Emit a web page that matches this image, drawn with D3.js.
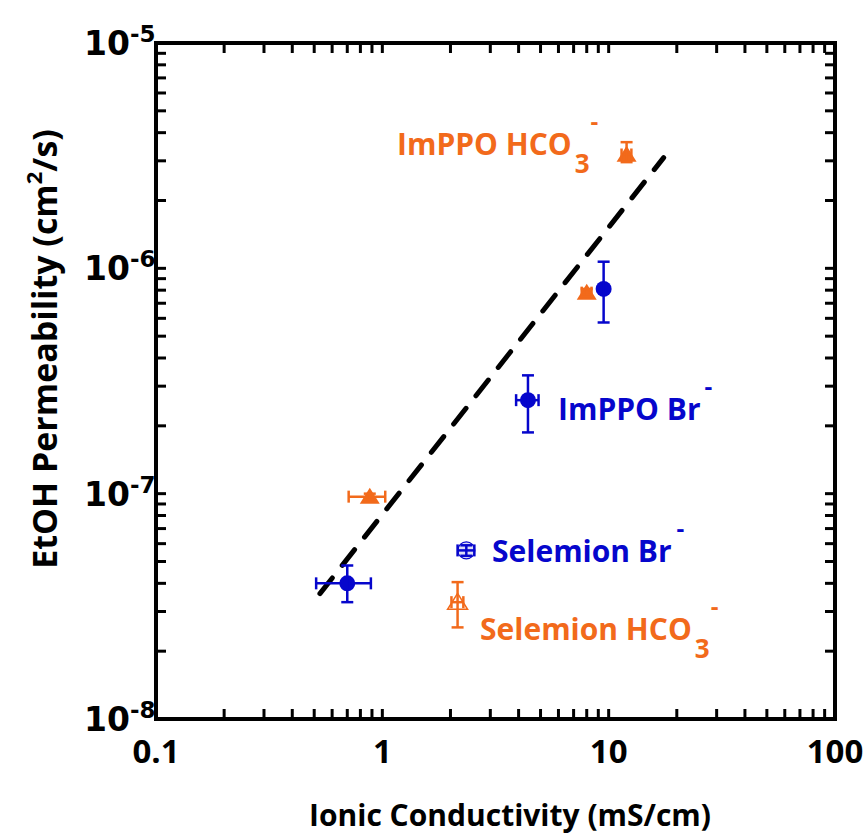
<!DOCTYPE html>
<html><head><meta charset="utf-8">
<script src="https://cdn.jsdelivr.net/npm/d3@7"></script>
<style>html,body{margin:0;padding:0;background:#fff;}</style>
</head><body>
<svg id="c" width="865" height="835"></svg>
<script>
// ---- data ----
const xDomain = [0.1, 100];
const yDomain = [1e-8, 1e-5];
const xTickLabels = ["0.1", "1", "10", "100"];
const yTickExps = ["-8", "-7", "-6", "-5"];

const impBrX   = [0.70, 4.4, 9.5];
const impBrY   = [4.0e-8, 2.6e-7, 8.1e-7];
const impBrXLo = [0.51, 3.9, 9.5];
const impBrXHi = [0.89, 4.9, 9.5];
const impBrYLo = [3.3e-8, 1.87e-7, 5.75e-7];
const impBrYHi = [4.8e-8, 3.35e-7, 1.07e-6];

const impHcoX   = [0.88, 8.0, 12.0];
const impHcoY   = [9.7e-8, 7.8e-7, 3.2e-6];
const impHcoXLo = [0.71, 7.6, 11.4];
const impHcoXHi = [1.03, 8.4, 12.6];
const impHcoYLo = [9.4e-8, 7.5e-7, 2.96e-6];
const impHcoYHi = [1.0e-7, 8.1e-7, 3.63e-6];

const selBrX   = [2.35];
const selBrY   = [5.6e-8];
const selBrXLo = [2.15];
const selBrXHi = [2.55];
const selBrYLo = [5.3e-8];
const selBrYHi = [5.9e-8];

const selHcoX   = [2.15];
const selHcoY   = [3.3e-8];
const selHcoXLo = [2.02];
const selHcoXHi = [2.28];
const selHcoYLo = [2.55e-8];
const selHcoYHi = [4.05e-8];

const fitX = [0.53, 17.5];
const fitY = [3.6e-8, 3.1e-6];

const BLUE = "#0606cc", ORANGE = "#f26a1b";
const FONT = "'Open Sans'";

// ---- layout ----
const L = 156, R = 835, T = 43, B = 719;
const svg = d3.select("#c");
const x = d3.scaleLog().domain(xDomain).range([L, R]);
const y = d3.scaleLog().domain(yDomain).range([B, T]);

// ticks (inward, all four sides)
const xt = x.ticks(), yt = y.ticks();
const isMajor = v => Math.abs(Math.log10(v) - Math.round(Math.log10(v))) < 1e-6;
const g = svg.append("g").attr("stroke", "#000").attr("stroke-width", 3);
xt.forEach(v => {
  const len = 10;
  g.append("line").attr("x1", x(v)).attr("x2", x(v)).attr("y1", B).attr("y2", B - len);
  g.append("line").attr("x1", x(v)).attr("x2", x(v)).attr("y1", T).attr("y2", T + len);
});
yt.forEach(v => {
  const len = 10;
  g.append("line").attr("y1", y(v)).attr("y2", y(v)).attr("x1", L).attr("x2", L + len);
  g.append("line").attr("y1", y(v)).attr("y2", y(v)).attr("x1", R).attr("x2", R - len);
});
svg.append("rect").attr("x", L).attr("y", T).attr("width", R - L).attr("height", B - T)
  .attr("fill", "none").attr("stroke", "#000").attr("stroke-width", 4);

// x tick labels
const xMajors = xt.filter(isMajor);
svg.selectAll(".xl").data(xMajors).join("text")
  .attr("x", d => x(d)).attr("y", 763).attr("text-anchor", "middle")
  .attr("font-family", FONT).attr("font-weight", "bold").attr("font-size", 33)
  .text((d, i) => xTickLabels[i]);

// y tick labels
const yMajors = yt.filter(isMajor);
yMajors.forEach((v, i) => {
  svg.append("text").attr("font-family", "DejaVu Sans").attr("font-weight", "bold")
    .attr("x", 130).attr("y", y(v) + 12).attr("text-anchor", "end").attr("font-size", 33).text("10");
  svg.append("text").attr("font-family", "DejaVu Sans").attr("font-weight", "bold")
    .attr("x", 130).attr("y", y(v) - 1).attr("font-size", 23).text(yTickExps[i]);
});

// axis titles
svg.append("text").attr("x", 510).attr("y", 826).attr("text-anchor", "middle")
  .attr("font-family", FONT).attr("font-weight", "bold").attr("font-size", 30)
  .text("Ionic Conductivity (mS/cm)");
const yt2 = svg.append("text").attr("transform", "translate(57,349) rotate(-90)")
  .attr("text-anchor", "middle").attr("font-family", FONT).attr("font-weight", "bold").attr("font-size", 34);
yt2.append("tspan").text("EtOH Permeability (cm");
yt2.append("tspan").attr("font-size", 22).attr("dy", -15).text("2");
yt2.append("tspan").attr("dy", 15).text("/s)");

// fit line
svg.append("line")
  .attr("x1", x(fitX[0])).attr("y1", y(fitY[0])).attr("x2", x(fitX[1])).attr("y2", y(fitY[1]))
  .attr("stroke", "#000").attr("stroke-width", 5).attr("stroke-dasharray", "20,16").attr("stroke-linecap", "round");

// error bars + markers
function series(X, Y, XLo, XHi, YLo, YHi, color, marker, fill) {
  const open = fill !== color;
  X.forEach((xv, i) => {
    const cx = x(xv), cy = y(Y[i]);
    const drawMarker = () => {
      if (marker === "circle") {
        svg.append("circle").attr("cx", cx).attr("cy", cy).attr("r", open ? 8.5 : 8)
          .attr("fill", fill).attr("stroke", color).attr("stroke-width", open ? 1.2 : 0);
      } else {
        const w = 10, h = 16;
        svg.append("path").attr("d", `M${cx},${cy - h * 0.55} L${cx + w},${cy + h * 0.45} L${cx - w},${cy + h * 0.45} Z`)
          .attr("fill", fill).attr("stroke", color).attr("stroke-width", open ? 1.5 : 0);
      }
    };
    if (!open) drawMarker();
    const eg = svg.append("g").attr("stroke", color).attr("stroke-width", 2.5);
    const cap = 6;
    if (XLo[i] !== XHi[i]) {
      eg.append("line").attr("x1", x(XLo[i])).attr("x2", x(XHi[i])).attr("y1", cy).attr("y2", cy);
      eg.append("line").attr("x1", x(XLo[i])).attr("x2", x(XLo[i])).attr("y1", cy - cap).attr("y2", cy + cap);
      eg.append("line").attr("x1", x(XHi[i])).attr("x2", x(XHi[i])).attr("y1", cy - cap).attr("y2", cy + cap);
    }
    if (YLo[i] !== YHi[i]) {
      eg.append("line").attr("y1", y(YLo[i])).attr("y2", y(YHi[i])).attr("x1", cx).attr("x2", cx);
      eg.append("line").attr("y1", y(YLo[i])).attr("y2", y(YLo[i])).attr("x1", cx - cap).attr("x2", cx + cap);
      eg.append("line").attr("y1", y(YHi[i])).attr("y2", y(YHi[i])).attr("x1", cx - cap).attr("x2", cx + cap);
    }
    if (open) {
      // open symbols: marker beneath, error bars on top
      drawMarker();
      svg.node().appendChild(eg.node());
    }
  });
}
series(impHcoX, impHcoY, impHcoXLo, impHcoXHi, impHcoYLo, impHcoYHi, ORANGE, "tri", ORANGE);
series(impBrX, impBrY, impBrXLo, impBrXHi, impBrYLo, impBrYHi, BLUE, "circle", BLUE);
series(selBrX, selBrY, selBrXLo, selBrXHi, selBrYLo, selBrYHi, BLUE, "circle", "#dcdcf6");
series(selHcoX, selHcoY, selHcoXLo, selHcoXHi, selHcoYLo, selHcoYHi, ORANGE, "tri", "#fff");

// annotations
function label(xp, yp, color, main, sub, sup, supDx) {
  const t = svg.append("text").attr("x", xp).attr("y", yp).attr("fill", color)
    .attr("font-family", FONT).attr("font-weight", "bold").attr("font-size", 30);
  t.append("tspan").text(main);
  if (sub) t.append("tspan").attr("font-size", 26).attr("dx", 3).attr("dy", 18).text(sub);
  t.append("tspan").attr("font-size", 24).attr("dx", supDx).attr("dy", sub ? -43 : -25).text(sup);
}
label(397, 155, ORANGE, "ImPPO HCO", "3", "-", 1);
label(558, 420, BLUE, "ImPPO Br", null, "-", 4);
label(492, 562, BLUE, "Selemion Br", null, "-", 5);
label(480, 640, ORANGE, "Selemion HCO", "3", "-", 1);
</script>
</body></html>
